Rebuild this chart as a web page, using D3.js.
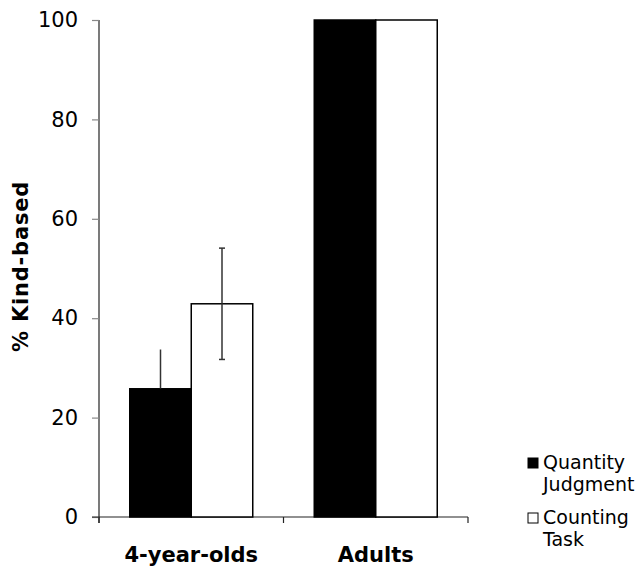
<!DOCTYPE html>
<html>
<head>
<meta charset="utf-8">
<script src="https://cdn.jsdelivr.net/npm/d3@7"></script>
<style>
  body { margin: 0; background: #fff; }
  text { font-family: "DejaVu Sans", Verdana, sans-serif; }
</style>
</head>
<body>
<script>
// chart data
const groups = ["4-year-olds", "Adults"]
const series = ["Quantity Judgment", "Counting Task"]
const seriesLines = [["Quantity", "Judgment"], ["Counting", "Task"]]
const quantity = [25.8, 100]
const counting = [42.9, 100]
const quantityErr = [7.9, 0]
const countingErr = [11.2, 0]
const yTicks = [0, 20, 40, 60, 80, 100]

const width = 641
const height = 568
const margin = { top: 20, left: 99, bottom: 51, right: 173 }

const svg = d3.select("body").append("svg")
  .attr("width", width)
  .attr("height", height)

const y = d3.scaleLinear().domain([0, 100]).range([height - margin.bottom, margin.top])
const x0 = d3.scaleBand().domain(groups).range([margin.left, width - margin.right])
  .paddingInner(1 / 3).paddingOuter(1 / 6)
const step = x0.step()
const x1 = d3.scaleBand().domain(series).range([0, x0.bandwidth()])

const rows = groups.map((g, i) => ({
  group: g,
  vals: [
    { s: series[0], v: quantity[i], e: quantityErr[i], fill: "#000" },
    { s: series[1], v: counting[i], e: countingErr[i], fill: "#fff" },
  ],
}))

// y axis
const yAxis = svg.append("g")
  .attr("transform", `translate(${margin.left},0)`)
  .call(d3.axisLeft(y).tickValues(yTicks).tickSize(7).tickPadding(14))
yAxis.select(".domain").attr("d", `M0,${y(100)}V${y(0) + 6}`).attr("stroke", "#222").attr("stroke-width", 1.2)
yAxis.selectAll(".tick line").attr("stroke", "#888").attr("stroke-width", 1.2)
yAxis.selectAll(".tick text").attr("font-size", 21).attr("fill", "#000")

// x axis line and category ticks
const x0Start = margin.left
const x0End = x0Start + step * groups.length
svg.append("line")
  .attr("x1", margin.left - 7).attr("x2", x0End)
  .attr("y1", y(0)).attr("y2", y(0))
  .attr("stroke", "#222").attr("stroke-width", 1.2)
svg.selectAll("line.cat")
  .data(d3.range(groups.length + 1))
  .join("line")
  .attr("class", "cat")
  .attr("x1", (d) => x0Start + d * step).attr("x2", (d) => x0Start + d * step)
  .attr("y1", y(0)).attr("y2", y(0) + 6)
  .attr("stroke", "#222").attr("stroke-width", 1.2)

// bars
const grp = svg.selectAll("g.grp")
  .data(rows)
  .join("g")
  .attr("class", "grp")
  .attr("transform", (d) => `translate(${x0(d.group)},0)`)

grp.selectAll("rect")
  .data((d) => d.vals)
  .join("rect")
  .attr("x", (d) => x1(d.s))
  .attr("y", (d) => y(d.v))
  .attr("width", x1.bandwidth())
  .attr("height", (d) => y(0) - y(d.v))
  .attr("fill", (d) => d.fill)
  .attr("stroke", "#000")
  .attr("stroke-width", 1.5)

// error bars (lower half inside a black bar is not visible)
const errs = grp.selectAll("g.err")
  .data((d) => d.vals.filter((v) => v.e > 0))
  .join("g")
  .attr("class", "err")
  .attr("transform", (d) => `translate(${x1(d.s) + x1.bandwidth() / 2},0)`)
errs.append("line")
  .attr("y1", (d) => y(d.v)).attr("y2", (d) => y(d.v + d.e))
  .attr("stroke", "#333").attr("stroke-width", 1.5)
errs.append("line")
  .attr("y1", (d) => y(d.v - d.e)).attr("y2", (d) => y(d.v))
  .attr("stroke", (d) => (d.fill === "#000" ? "#000" : "#333")).attr("stroke-width", 1.5)
errs.filter((d) => d.fill === "#fff").selectAll("line.cap")
  .data((d) => [d.v - d.e, d.v + d.e])
  .join("line")
  .attr("class", "cap")
  .attr("x1", -3).attr("x2", 3)
  .attr("y1", (d) => y(d)).attr("y2", (d) => y(d))
  .attr("stroke", "#333").attr("stroke-width", 1.5)

// category labels
svg.selectAll("text.cat")
  .data(groups)
  .join("text")
  .attr("class", "cat")
  .attr("x", (d) => x0(d) + x0.bandwidth() / 2)
  .attr("y", 562)
  .attr("text-anchor", "middle")
  .attr("font-size", 21)
  .attr("font-weight", "bold")
  .text((d) => d)

// y label
svg.append("text")
  .attr("transform", `translate(28,${(y(0) + y(100)) / 2 - 2}) rotate(-90)`)
  .attr("text-anchor", "middle")
  .attr("font-size", 21)
  .attr("font-weight", "bold")
  .attr("letter-spacing", 0.8)
  .text("% Kind-based")

// legend
const legend = svg.selectAll("g.leg")
  .data(series)
  .join("g")
  .attr("class", "leg")
  .attr("transform", (d, i) => `translate(528,${458 + i * 55})`)
legend.append("rect")
  .attr("width", 10).attr("height", 10)
  .attr("fill", (d, i) => (i === 0 ? "#000" : "#fff"))
  .attr("stroke", "#000").attr("stroke-width", 1)
legend.append("text")
  .attr("x", 15)
  .attr("y", 11)
  .attr("font-size", 19)
  .selectAll("tspan")
  .data((d, i) => seriesLines[i])
  .join("tspan")
  .attr("x", 15)
  .attr("dy", (d, i) => (i === 0 ? 0 : 21.5))
  .text((d) => d)
</script>
</body>
</html>
